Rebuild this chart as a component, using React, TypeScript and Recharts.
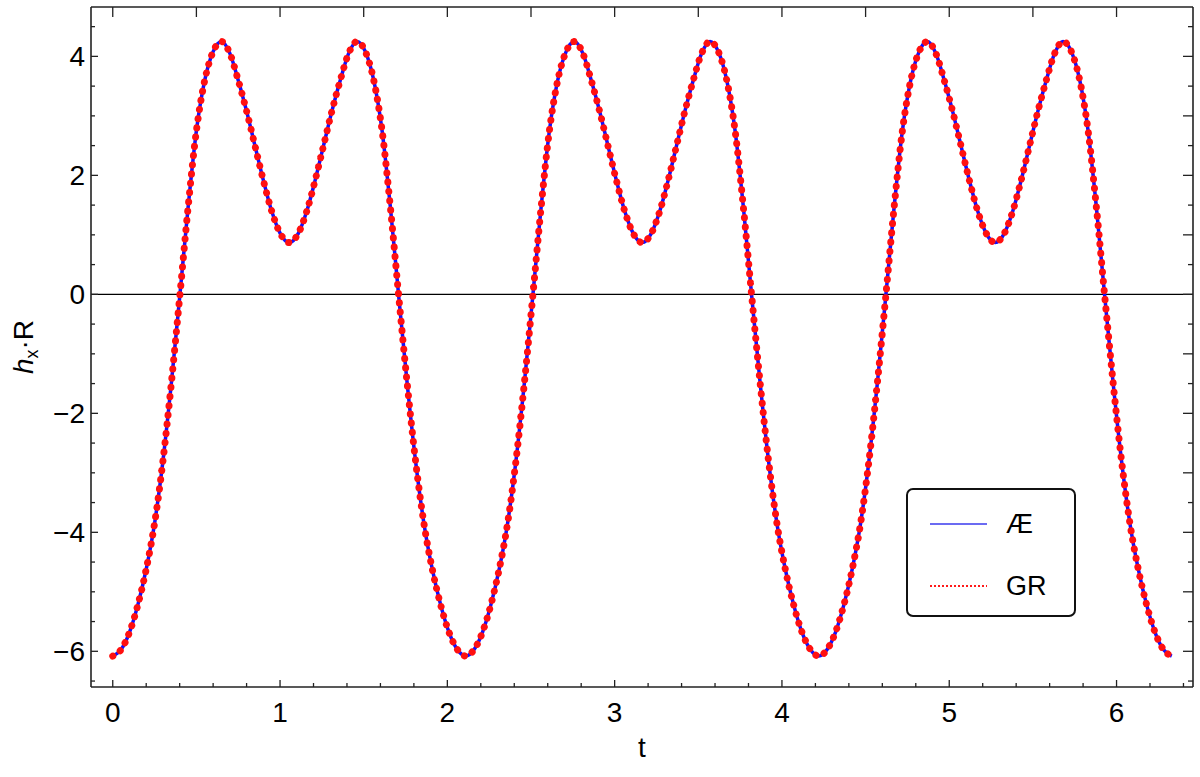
import { LineChart, Line, XAxis, YAxis, ReferenceLine, Legend } from "recharts";

// t samples and h_x·R values (three identical periods)
const tValues = [
  0, 0.05, 0.1, 0.15, 0.2, 0.25, 0.3, 0.35, 0.4, 0.45, 0.5, 0.55, 0.6, 0.65, 0.7, 0.75, 0.8, 0.85, 0.9, 0.95, 1.0,
  1.055, 1.11, 1.16, 1.21, 1.26, 1.31, 1.36, 1.41, 1.46, 1.51, 1.56, 1.61, 1.66, 1.71, 1.76, 1.81, 1.86, 1.91, 1.96, 2.01, 2.06,
  2.11, 2.16, 2.21, 2.26, 2.31, 2.36, 2.41, 2.46, 2.51, 2.56, 2.61, 2.66, 2.71, 2.76, 2.81, 2.86, 2.91, 2.96, 3.01, 3.06, 3.11,
  3.165, 3.22, 3.27, 3.32, 3.37, 3.42, 3.47, 3.52, 3.57, 3.62, 3.67, 3.72, 3.77, 3.82, 3.87, 3.92, 3.97, 4.02, 4.07, 4.12, 4.17,
  4.22, 4.27, 4.32, 4.37, 4.42, 4.47, 4.52, 4.57, 4.62, 4.67, 4.72, 4.77, 4.82, 4.87, 4.92, 4.97, 5.02, 5.07, 5.12, 5.17, 5.22,
  5.275, 5.33, 5.38, 5.43, 5.48, 5.53, 5.58, 5.63, 5.68, 5.73, 5.78, 5.83, 5.88, 5.93, 5.98, 6.03, 6.08, 6.13, 6.18, 6.23, 6.28,
  6.33,
];

const aeValues = [
  -6.08, -5.97, -5.68, -5.22, -4.62, -3.85, -2.8, -1.5, -0.05, 1.45, 2.75, 3.6, 4.08, 4.25, 4.05, 3.6, 3.08, 2.5, 1.92, 1.4, 1.03,
  0.87, 1.03, 1.4, 1.92, 2.5, 3.08, 3.6, 4.05, 4.25, 4.08, 3.6, 2.75, 1.45, -0.05, -1.5, -2.8, -3.85, -4.62, -5.22, -5.68, -5.97,
  -6.08, -5.97, -5.68, -5.22, -4.62, -3.85, -2.8, -1.5, -0.05, 1.45, 2.75, 3.6, 4.08, 4.25, 4.05, 3.6, 3.08, 2.5, 1.92, 1.4, 1.03,
  0.87, 1.03, 1.4, 1.92, 2.5, 3.08, 3.6, 4.05, 4.25, 4.08, 3.6, 2.75, 1.45, -0.05, -1.5, -2.8, -3.85, -4.62, -5.22, -5.68, -5.97,
  -6.08, -5.97, -5.68, -5.22, -4.62, -3.85, -2.8, -1.5, -0.05, 1.45, 2.75, 3.6, 4.08, 4.25, 4.05, 3.6, 3.08, 2.5, 1.92, 1.4, 1.03,
  0.87, 1.03, 1.4, 1.92, 2.5, 3.08, 3.6, 4.05, 4.25, 4.08, 3.6, 2.75, 1.45, -0.05, -1.5, -2.8, -3.85, -4.62, -5.22, -5.68, -5.97,
  -6.08,
];

// GR sits exactly on top of Æ at this resolution
const grValues = [...aeValues];

const seriesNames = ["Æ", "GR"];
const xMajorTicks = [0, 1, 2, 3, 4, 5, 6];
const yMajorTicks = [-6, -4, -2, 0, 2, 4];

const X_DOMAIN: [number, number] = [-0.13, 6.457];
const Y_DOMAIN: [number, number] = [-6.6, 4.83];

const FONT = '"Liberation Sans", Arial, sans-serif';
const FRAME = "#222";

// tick positions (not data)
const range = (from: number, to: number, step: number) => {
  const out: number[] = [];
  for (let i = 0; from + i * step <= to + 1e-9; i++) out.push(Math.round((from + i * step) * 1000) / 1000);
  return out;
};
const xTicks = range(0, 6.4, 0.2);
const yTicks = range(-6.5, 4.5, 0.5);
const topTicks = range(0, 6, 0.5);

const fmt = (v: number) => String(v).replace("-", "\u2212");

const data = tValues.map((t, i) => ({ t, ae: aeValues[i], gr: grValues[i] }));

function BottomTick(props: any) {
  const { x, y, payload } = props;
  const major = xMajorTicks.includes(payload.value);
  return (
    <g>
      <line x1={x} x2={x} y1={y} y2={y - (major ? 7 : 4)} stroke={FRAME} strokeWidth={1.3} />
      {major && (
        <text x={x} y={y + 35} textAnchor="middle" fontSize={28} fontFamily={FONT} fill="#000">
          {fmt(payload.value)}
        </text>
      )}
    </g>
  );
}

function LeftTick(props: any) {
  const { x, y, payload } = props;
  const major = yMajorTicks.includes(payload.value);
  return (
    <g>
      <line x1={x} x2={x + (major ? 7 : 4)} y1={y} y2={y} stroke={FRAME} strokeWidth={1.3} />
      {major && (
        <text x={x - 6} y={y + 10} textAnchor="end" fontSize={28} fontFamily={FONT} fill="#000">
          {fmt(payload.value)}
        </text>
      )}
    </g>
  );
}

function TopTick(props: any) {
  const { x, y } = props;
  return <line x1={x} x2={x} y1={y} y2={y + 10} stroke={FRAME} strokeWidth={1.3} />;
}

function RightTick(props: any) {
  const { x, y, payload } = props;
  const len = Number.isInteger(payload.value) ? 10 : 5;
  return <line x1={x} x2={x - len} y1={y} y2={y} stroke={FRAME} strokeWidth={1.3} />;
}

function YTitle(props: any) {
  const vb = props.viewBox || { x: 0, y: 7, width: 91, height: 680 };
  const cx = vb.x + 33;
  const cy = vb.y + vb.height / 2;
  return (
    <text x={cx} y={cy} transform={`rotate(-90, ${cx}, ${cy})`} textAnchor="middle" fontFamily={FONT} fontSize={28} fill="#000">
      <tspan fontStyle="italic">h</tspan>
      <tspan fontSize={18} dy={5}>x</tspan>
      <tspan dy={-5}>·R</tspan>
    </text>
  );
}

function XTitle(props: any) {
  const vb = props.viewBox || { x: 91, y: 687, width: 1102, height: 90 };
  return (
    <text x={vb.x + vb.width / 2} y={vb.y + 70} textAnchor="middle" fontFamily={FONT} fontSize={28} fill="#000">
      t
    </text>
  );
}

function LegendBox(props: any) {
  const items = [...(props.payload || [])].sort(
    (a: any, b: any) => seriesNames.indexOf(a.value) - seriesNames.indexOf(b.value)
  );
  return (
    <div
      style={{
        width: 170,
        height: 129,
        boxSizing: "border-box",
        border: "2px solid #111",
        borderRadius: 7,
        background: "#fff",
      }}
    >
      <svg width={166} height={125}>
        {items.map((it: any, i: number) => {
          const y = 34 + i * 62;
          const dotted = it.value === "GR";
          return (
            <g key={it.value}>
              <line
                x1={22}
                x2={79}
                y1={y}
                y2={y}
                stroke={dotted ? "#ff1a1a" : "#6b6bf2"}
                strokeWidth={2}
                strokeDasharray={dotted ? "2 2" : undefined}
              />
              <text x={98} y={y + 9} fontFamily={FONT} fontSize={27} fill="#000">
                {it.value}
              </text>
            </g>
          );
        })}
      </svg>
    </div>
  );
}

export default function App() {
  return (
    <div style={{ position: "absolute", left: 0, top: 0, width: 1200, height: 777, background: "#fff" }}>
      <LineChart width={1200} height={777} data={data} margin={{ top: 6, right: 6, bottom: 0, left: 0 }}>
        <XAxis
          dataKey="t"
          type="number"
          domain={X_DOMAIN}
          allowDataOverflow
          ticks={xTicks}
          interval={0}
          height={90}
          tickSize={0}
          tickMargin={0}
          tickLine={false}
          tick={<BottomTick />}
          axisLine={{ stroke: FRAME, strokeWidth: 1.6 }}
          label={<XTitle />}
        />
        <XAxis
          xAxisId="top"
          orientation="top"
          dataKey="t"
          type="number"
          domain={X_DOMAIN}
          allowDataOverflow
          ticks={topTicks}
          interval={0}
          height={1}
          tickSize={0}
          tickMargin={0}
          tickLine={false}
          tick={<TopTick />}
          axisLine={{ stroke: FRAME, strokeWidth: 1.6 }}
        />
        <YAxis
          type="number"
          domain={Y_DOMAIN}
          allowDataOverflow
          ticks={yTicks}
          interval={0}
          width={91}
          tickSize={0}
          tickMargin={0}
          tickLine={false}
          tick={<LeftTick />}
          axisLine={{ stroke: FRAME, strokeWidth: 1.6 }}
          label={<YTitle />}
        />
        <YAxis
          yAxisId="right"
          orientation="right"
          type="number"
          domain={Y_DOMAIN}
          allowDataOverflow
          ticks={yTicks}
          interval={0}
          width={1}
          tickSize={0}
          tickMargin={0}
          tickLine={false}
          tick={<RightTick />}
          axisLine={{ stroke: FRAME, strokeWidth: 1.6 }}
        />
        <ReferenceLine y={0} stroke="#000" strokeWidth={1.4} />
        <Line
          type="monotone"
          dataKey="ae"
          name="Æ"
          stroke="#0f0fff"
          strokeWidth={3.5}
          dot={false}
          isAnimationActive={false}
        />
        <Line
          type="monotone"
          dataKey="gr"
          name="GR"
          stroke="#ff1010"
          strokeWidth={7}
          strokeDasharray="0.1 9.2"
          strokeLinecap="round"
          dot={false}
          isAnimationActive={false}
        />
        <Legend
          layout="vertical"
          align="center"
          verticalAlign="middle"
          wrapperStyle={{ left: 906, top: 488, width: 170, height: 129 }}
          content={<LegendBox />}
        />
      </LineChart>
    </div>
  );
}
